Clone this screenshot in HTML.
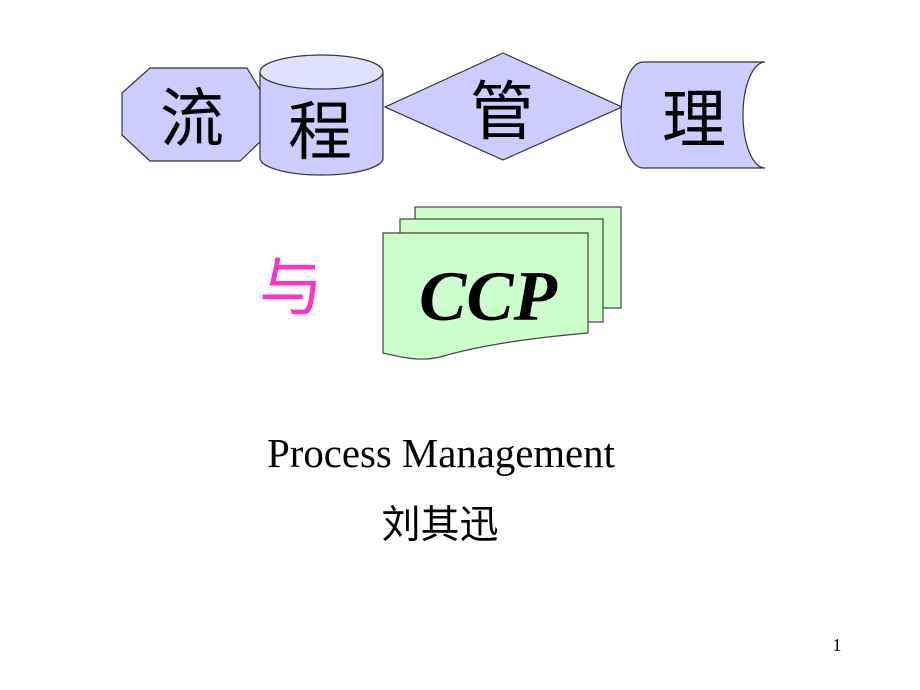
<!DOCTYPE html>
<html>
<head>
<meta charset="utf-8">
<style>
html,body{margin:0;padding:0;background:#fff;}
svg{display:block;}
</style>
</head>
<body>
<svg width="920" height="690" viewBox="0 0 920 690" xmlns="http://www.w3.org/2000/svg">
  <!-- Octagon 流 -->
  <polygon points="150,68 247,68 262,93 262,140 240,161 150,161 122,135 122,93" fill="#ccccff" stroke="#333" stroke-width="1.2"/>
  <!-- Cylinder 程 -->
  <path d="M260,72 L260,158 A61.5,17 0 0,0 383,158 L383,72" fill="#ccccff" stroke="#333" stroke-width="1.2"/>
  <ellipse cx="321.5" cy="72" rx="61.5" ry="17" fill="#e0e0ff" stroke="#333" stroke-width="1.2"/>
  <!-- Diamond 管 -->
  <polygon points="385,107 503,53 622,107 503,160" fill="#ccccff" stroke="#333" stroke-width="1.2"/>
  <!-- Stored data 理 -->
  <path d="M643,62 A22,53 0 0,0 643,168 L765,168 A22,53 0 0,1 765,62 Z" fill="#ccccff" stroke="#333" stroke-width="1.2"/>

  <g font-family="'WenQuanYi Zen Hei','Noto Sans CJK SC',sans-serif" font-size="64" fill="#000" text-anchor="middle">
    <text x="192" y="141">流</text>
    <text x="320" y="154">程</text>
    <text x="502" y="134">管</text>
    <text x="694" y="142">理</text>
  </g>

  <!-- Stacked documents -->
  <rect x="415" y="207" width="206" height="101" fill="#ccffcc" stroke="#444" stroke-width="1.2"/>
  <rect x="400" y="219" width="203" height="103" fill="#ccffcc" stroke="#444" stroke-width="1.2"/>
  <path d="M383,233 L588,233 L588,333 C530,338 480,345 440,357 C420,362 400,357 383,353 Z" fill="#ccffcc" stroke="#444" stroke-width="1.2"/>

  <text x="291" y="310" font-family="'WenQuanYi Zen Hei','Noto Sans CJK SC',sans-serif" font-size="64" fill="#ff33cc" text-anchor="middle">与</text>
  <text x="488" y="320" font-family="'Liberation Serif',serif" font-weight="bold" font-style="italic" font-size="71" fill="#000" text-anchor="middle">CCP</text>

  <text x="441" y="467" font-family="'Liberation Serif',serif" font-size="40.8" fill="#000" text-anchor="middle">Process Management</text>
  <text x="440" y="538" font-family="'Liberation Sans','WenQuanYi Zen Hei',sans-serif" font-size="39" fill="#000" text-anchor="middle">刘其迅</text>
  <text x="837" y="651" font-family="'Liberation Serif',serif" font-size="18" fill="#000" text-anchor="middle">1</text>
</svg>
</body>
</html>
